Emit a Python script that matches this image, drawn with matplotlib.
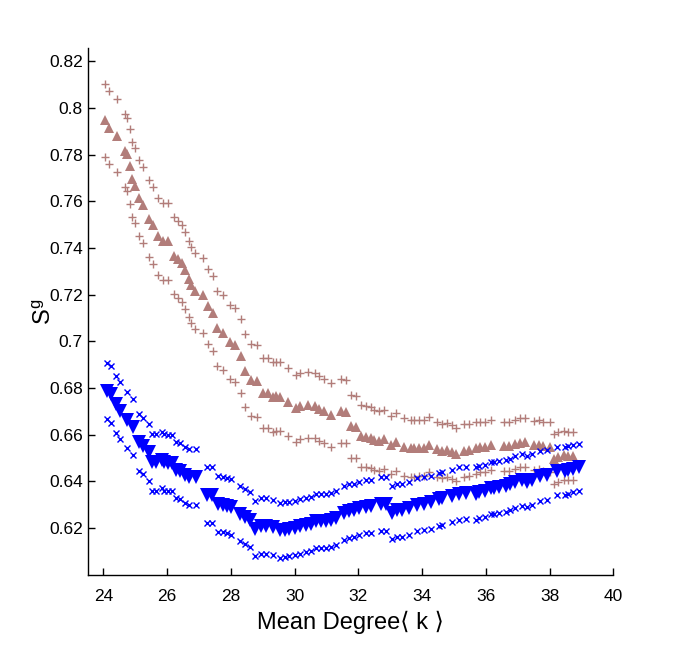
import matplotlib
matplotlib.use("Agg")
import matplotlib.pyplot as plt
import numpy as np

# ---- data: group 1 (brown, mean ± std) ----
x_brown = [24.07, 24.17, 24.42, 24.67, 24.76, 24.85, 24.90, 25.00, 25.13, 25.26,
           25.45, 25.57, 25.73, 25.88, 26.04, 26.22, 26.35, 26.48, 26.57, 26.70,
           26.76, 26.88, 27.13, 27.28, 27.45, 27.57, 27.76, 27.97, 28.13, 28.33,
           28.44, 28.65, 28.82, 29.01, 29.17, 29.32, 29.43, 29.53, 29.79, 30.05,
           30.16, 30.42, 30.63, 30.78, 30.94, 31.15, 31.46, 31.62, 31.77, 31.93,
           32.08, 32.24, 32.40, 32.50, 32.66, 32.81, 33.02, 33.18, 33.44, 33.65,
           33.75, 33.91, 34.06, 34.22, 34.48, 34.63, 34.79, 34.95, 35.05, 35.31,
           35.47, 35.68, 35.83, 35.99, 36.15, 36.56, 36.72, 36.93, 37.08, 37.24,
           37.50, 37.66, 37.81, 38.02, 38.13, 38.28, 38.44, 38.59, 38.75]
mean_brown = [0.7947, 0.7916, 0.7882, 0.7818, 0.7801, 0.7750, 0.7694, 0.7668, 0.7616, 0.7586,
              0.7525, 0.7498, 0.7451, 0.7429, 0.7429, 0.7368, 0.7352, 0.7335, 0.7305, 0.7267,
              0.7242, 0.7217, 0.7197, 0.7151, 0.7121, 0.7056, 0.7037, 0.6996, 0.6986, 0.6937,
              0.6874, 0.6834, 0.6831, 0.6780, 0.6777, 0.6761, 0.6764, 0.6763, 0.6739, 0.6713,
              0.6723, 0.6728, 0.6725, 0.6712, 0.6703, 0.6685, 0.6702, 0.6699, 0.6636, 0.6632,
              0.6595, 0.6591, 0.6587, 0.6579, 0.6574, 0.6581, 0.6555, 0.6570, 0.6547, 0.6543,
              0.6542, 0.6543, 0.6545, 0.6558, 0.6537, 0.6531, 0.6535, 0.6526, 0.6516, 0.6532,
              0.6536, 0.6543, 0.6547, 0.6548, 0.6557, 0.6550, 0.6550, 0.6560, 0.6565, 0.6567,
              0.6555, 0.6558, 0.6550, 0.6547, 0.6496, 0.6504, 0.6512, 0.6508, 0.6509]
std_brown = [0.0157, 0.0157, 0.0158, 0.0158, 0.0158, 0.0160, 0.0160, 0.0162, 0.0163, 0.0163,
             0.0165, 0.0165, 0.0165, 0.0166, 0.0166, 0.0165, 0.0164, 0.0164, 0.0164, 0.0163,
             0.0163, 0.0162, 0.0162, 0.0161, 0.0161, 0.0160, 0.0160, 0.0159, 0.0159, 0.0157,
             0.0156, 0.0154, 0.0153, 0.0151, 0.0150, 0.0149, 0.0148, 0.0147, 0.0145, 0.0142,
             0.0142, 0.0141, 0.0140, 0.0139, 0.0138, 0.0137, 0.0136, 0.0135, 0.0134, 0.0133,
             0.0132, 0.0131, 0.0130, 0.0129, 0.0128, 0.0127, 0.0125, 0.0124, 0.0123, 0.0122,
             0.0121, 0.0120, 0.0120, 0.0119, 0.0118, 0.0117, 0.0116, 0.0115, 0.0115, 0.0113,
             0.0112, 0.0110, 0.0108, 0.0107, 0.0106, 0.0105, 0.0105, 0.0105, 0.0105, 0.0105,
             0.0105, 0.0105, 0.0105, 0.0106, 0.0107, 0.0106, 0.0105, 0.0104, 0.0103]

# ---- data: group 2 (blue, mean ± std) ----
x_blue = [24.13, 24.25, 24.39, 24.51, 24.73, 24.92, 25.13, 25.26, 25.42, 25.54,
          25.67, 25.83, 25.92, 26.04, 26.15, 26.28, 26.42, 26.56, 26.70, 26.91,
          27.24, 27.40, 27.60, 27.76, 27.87, 28.02, 28.28, 28.44, 28.59, 28.75,
          28.96, 29.10, 29.32, 29.53, 29.69, 29.84, 30.00, 30.16, 30.36, 30.52,
          30.68, 30.83, 30.99, 31.15, 31.30, 31.56, 31.72, 31.88, 32.03, 32.24,
          32.40, 32.71, 32.87, 33.07, 33.23, 33.38, 33.59, 33.85, 34.06, 34.27,
          34.53, 34.63, 34.95, 35.16, 35.37, 35.68, 35.78, 35.99, 36.15, 36.25,
          36.41, 36.62, 36.77, 36.93, 37.13, 37.29, 37.45, 37.71, 37.92, 38.23,
          38.49, 38.59, 38.75, 38.91]
mean_blue = [0.6787, 0.6773, 0.6730, 0.6703, 0.6664, 0.6634, 0.6567, 0.6551, 0.6524, 0.6482,
             0.6482, 0.6491, 0.6482, 0.6479, 0.6479, 0.6448, 0.6443, 0.6428, 0.6417, 0.6421,
             0.6343, 0.6343, 0.6304, 0.6301, 0.6296, 0.6291, 0.6262, 0.6248, 0.6235, 0.6198,
             0.6209, 0.6209, 0.6203, 0.6191, 0.6193, 0.6196, 0.6200, 0.6207, 0.6215, 0.6218,
             0.6229, 0.6231, 0.6229, 0.6236, 0.6243, 0.6266, 0.6273, 0.6277, 0.6284, 0.6292,
             0.6294, 0.6303, 0.6303, 0.6266, 0.6277, 0.6277, 0.6285, 0.6300, 0.6304, 0.6310,
             0.6324, 0.6328, 0.6338, 0.6348, 0.6351, 0.6348, 0.6354, 0.6358, 0.6372, 0.6372,
             0.6377, 0.6380, 0.6387, 0.6398, 0.6406, 0.6399, 0.6408, 0.6423, 0.6428, 0.6444,
             0.6444, 0.6449, 0.6454, 0.6460]
std_blue = [0.0121, 0.0121, 0.0121, 0.0121, 0.0121, 0.0121, 0.0121, 0.0121, 0.0121, 0.0121,
            0.0121, 0.0121, 0.0121, 0.0121, 0.0121, 0.0120, 0.0120, 0.0120, 0.0120, 0.0120,
            0.0120, 0.0120, 0.0119, 0.0119, 0.0119, 0.0119, 0.0119, 0.0118, 0.0118, 0.0118,
            0.0118, 0.0118, 0.0117, 0.0117, 0.0117, 0.0117, 0.0116, 0.0116, 0.0116, 0.0116,
            0.0115, 0.0115, 0.0115, 0.0115, 0.0115, 0.0115, 0.0114, 0.0114, 0.0114, 0.0114,
            0.0114, 0.0114, 0.0114, 0.0114, 0.0114, 0.0114, 0.0113, 0.0113, 0.0113, 0.0113,
            0.0113, 0.0113, 0.0113, 0.0112, 0.0112, 0.0112, 0.0112, 0.0112, 0.0112, 0.0112,
            0.0111, 0.0111, 0.0111, 0.0110, 0.0110, 0.0109, 0.0108, 0.0107, 0.0106, 0.0104,
            0.0102, 0.0102, 0.0101, 0.0100]

x_ticks = [24, 26, 28, 30, 32, 34, 36, 38, 40]
x_ticklabels = ["24", "26", "28", "30", "32", "34", "36", "38", "40"]
y_ticks = [0.62, 0.64, 0.66, 0.68, 0.70, 0.72, 0.74, 0.76, 0.78, 0.80, 0.82]
y_ticklabels = ["0.62", "0.64", "0.66", "0.68", "0.7", "0.72", "0.74", "0.76", "0.78", "0.8", "0.82"]

BROWN = "#B27D7A"
BLUE = "#0000FF"

plt.rcParams["font.family"] = ["Liberation Sans", "DejaVu Sans"]

fig = plt.figure(figsize=(6.77, 6.46), dpi=100)
ax = fig.add_axes([0.1304, 0.1099, 0.7755, 0.8153])

xb = np.array(x_brown); mb = np.array(mean_brown); sb = np.array(std_brown)
xu = np.array(x_blue); mu = np.array(mean_blue); su = np.array(std_blue)

# brown group
ax.plot(xb, mb + sb, linestyle="none", marker="+", color=BROWN, markersize=5.5, markeredgewidth=1.0)
ax.plot(xb, mb - sb, linestyle="none", marker="+", color=BROWN, markersize=5.5, markeredgewidth=1.0)
ax.plot(xb, mb, linestyle="none", marker="^", color=BROWN, markersize=7, markeredgewidth=0)

# blue group
ax.plot(xu, mu + su, linestyle="none", marker="x", color=BLUE, markersize=4.5, markeredgewidth=1.0)
ax.plot(xu, mu - su, linestyle="none", marker="x", color=BLUE, markersize=4.5, markeredgewidth=1.0)
ax.plot(xu, mu, linestyle="none", marker="v", color=BLUE, markersize=9.5, markeredgewidth=0)

ax.set_xlim(23.53, 40)
ax.set_ylim(0.5999, 0.8256)
ax.set_xticks(x_ticks)
ax.set_xticklabels(x_ticklabels)
ax.set_yticks(y_ticks)
ax.set_yticklabels(y_ticklabels)
ax.tick_params(direction="in", length=5, width=1, labelsize=12.5, pad=4)
ax.tick_params(axis="x", pad=10)

ax.spines["top"].set_visible(False)
ax.spines["right"].set_visible(False)
for s in ("left", "bottom"):
    ax.spines[s].set_linewidth(1.0)

ax.set_xlabel("Mean Degree\u27e8 k \u27e9", fontsize=17, labelpad=5)
ax.set_ylabel("S$^{\\mathregular{g}}$", fontsize=17, labelpad=-5)

fig.savefig("out.png", dpi=100)
